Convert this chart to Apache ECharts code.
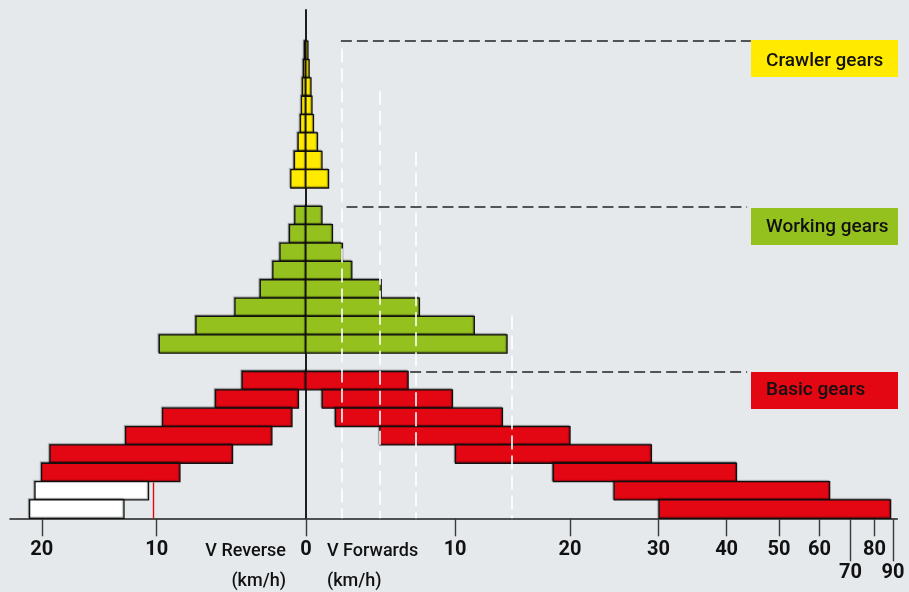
<!DOCTYPE html>
<html><head><meta charset="utf-8">
<script src="https://cdn.jsdelivr.net/npm/echarts@6/dist/echarts.min.js"></script>
<style>html,body{margin:0;padding:0;background:#e5e9ec}#c{width:909px;height:592px}</style>
</head><body><div id="c"></div><script>
// ---- data (km/h) ----
const groupNames = ['Crawler gears', 'Working gears', 'Basic gears'];
const groupFirstRow = [0, 9, 18];
// reverse speed ranges [from, to] and forward speed ranges [from, to]
const crawlerRevFrom = [0, 0, 0, 0, 0, 0, 0, 0];
const crawlerRevTo   = [0.08, 0.14, 0.20, 0.26, 0.32, 0.46, 0.68, 0.90];
const crawlerFwdFrom = [0, 0, 0, 0, 0, 0, 0, 0];
const crawlerFwdTo   = [0.12, 0.19, 0.30, 0.36, 0.45, 0.69, 0.96, 1.36];
const workingRevFrom = [0, 0, 0, 0, 0, 0, 0, 0];
const workingRevTo   = [0.66, 0.98, 1.56, 2.0, 2.79, 4.43, 7.1, 9.8];
const workingFwdFrom = [0, 0, 0, 0, 0, 0, 0, 0];
const workingFwdTo   = [0.96, 1.6, 2.22, 2.81, 4.72, 7.36, 11.5, 14.2];
const basicRevFrom   = [0, 0.44, 0.83, 2.06, 4.59, 8.26, 10.63, 12.59];
const basicRevTo     = [3.95, 5.74, 9.55, 12.46, 19.19, 20.02, 20.68, 21.23];
const basicRevWhite  = [0, 0, 0, 0, 0, 0, 1, 1];
const basicFwdFrom   = [0, 0.98, 1.79, 4.63, 10.03, 18.38, 24.66, 30.08];
const basicFwdTo     = [6.56, 9.8, 13.81, 20.0, 29.1, 41.7, 63.0, 88.6];
// axis ticks (km/h, reverse negative)
const tickSpeeds = [-20, -10, 0, 10, 20, 30, 40, 50, 60, 80];
const lowTickSpeeds = [70, 90];
// reference lines
const whiteLineSpeeds = [2.2, 4.6, 7.1, 14.6];
const whiteLineTopRows = [0.4, 2.7, 6.05, 14.95];
const groupLineFrom = [2.12, 2.47, 6.7];
const groupLineTo = [44.3, 43.6, 43.6];
const redMarkSpeed = -10.25;
const redMarkTopRow = 24.05;

// ---- speed scale (compressive) ----
const R = 0.77;
function T(v){ const s = v < 0 ? -1 : 1; return s * (1 - Math.pow(R, Math.abs(v) / 10)); }
function Tinv(u){ const s = u < 0 ? -1 : 1; return s * 10 * Math.log(1 - Math.abs(u)) / Math.log(R); }

const COLORS = ['#ffea00', '#95c11f', '#e30613', '#ffffff'];
const bars = [];
function addGroup(g, revFrom, revTo, fwdFrom, fwdTo, white){
  for (let i = 0; i < revTo.length; i++){
    const row = groupFirstRow[g] + i;
    bars.push([T(-revFrom[i]), T(-revTo[i]), row, white && white[i] ? 3 : g]);
    bars.push([T(fwdFrom[i]), T(fwdTo[i]), row, g]);
  }
}
addGroup(0, crawlerRevFrom, crawlerRevTo, crawlerFwdFrom, crawlerFwdTo);
addGroup(1, workingRevFrom, workingRevTo, workingFwdFrom, workingFwdTo);
addGroup(2, basicRevFrom, basicRevTo, basicFwdFrom, basicFwdTo, basicRevWhite);

const whiteLines = whiteLineSpeeds.map((v, i) => [{coord: [T(v), whiteLineTopRows[i]]}, {coord: [T(v), 26]}]);
const blackLines = groupFirstRow.map((r, i) => [{coord: [T(groupLineFrom[i]), r]}, {coord: [T(groupLineTo[i]), r]}]);

const FONT = 'Roboto, "Liberation Sans", sans-serif';
const chart = echarts.init(document.getElementById('c'), null, {renderer: 'canvas'});

const xBase = {
  type: 'value', min: T(-23.3), max: T(92.8),
  splitLine: {show: false}
};

chart.setOption({
  backgroundColor: '#e5e9ec',
  animation: false,
  grid: {left: 10, right: 11.7, top: 10, bottom: 73.7},
  xAxis: [
    Object.assign({}, xBase, {
      position: 'bottom', offset: 0,
      axisLine: {show: true, onZero: false, lineStyle: {color: '#1e1e1e', width: 1.6}},
      axisTick: {show: true, customValues: tickSpeeds.map(T), length: 18, lineStyle: {color: '#3a3a3a', width: 1.4}},
      axisLabel: {show: true, customValues: tickSpeeds.map(T), margin: 22,
        formatter: v => String(Math.round(Math.abs(Tinv(v)))),
        fontFamily: FONT, fontSize: 20, fontWeight: 'bold', color: '#111', lineHeight: 20}
    }),
    Object.assign({}, xBase, {
      position: 'bottom', offset: 0,
      axisLine: {show: false, onZero: false},
      axisTick: {show: true, customValues: lowTickSpeeds.map(T), length: 43, lineStyle: {color: '#3a3a3a', width: 1.4}},
      axisLabel: {show: true, customValues: lowTickSpeeds.map(T), margin: 45,
        formatter: v => String(Math.round(Math.abs(Tinv(v)))),
        fontFamily: FONT, fontSize: 20, fontWeight: 'bold', color: '#111', lineHeight: 20}
    })
  ],
  yAxis: {
    type: 'value', inverse: true, min: -1.7, max: 26,
    axisLine: {show: true, onZero: true, lineStyle: {color: '#1e1e1e', width: 2}},
    axisTick: {show: false}, axisLabel: {show: false}, splitLine: {show: false}
  },
  series: [{
    type: 'custom',
    xAxisIndex: 0,
    data: bars,
    encode: {x: [0, 1], y: 2},
    z: 2,
    renderItem: function(params, api){
      const a = api.coord([api.value(0), api.value(2)]);
      const b = api.coord([api.value(1), api.value(2) + 1]);
      return {
        type: 'rect',
        shape: {x: Math.min(a[0], b[0]), y: Math.min(a[1], b[1]), width: Math.abs(b[0] - a[0]), height: Math.abs(b[1] - a[1])},
        style: {fill: COLORS[api.value(3)], stroke: '#111', lineWidth: 1.3,
          shadowColor: 'rgba(0,0,0,0.35)', shadowBlur: 1, shadowOffsetX: -1, shadowOffsetY: -1}
      };
    },
    markLine: {
      silent: true, symbol: 'none', animation: false,
      label: {show: false},
      data: whiteLines.map(d => [Object.assign({lineStyle: {color: '#ffffff', width: 1.6, type: [14, 6]}}, d[0]), d[1]])
        .concat(blackLines.map(d => [Object.assign({lineStyle: {color: '#222', width: 1.5, type: [11, 5]}}, d[0]), d[1]]))
        .concat([[{coord: [T(redMarkSpeed), redMarkTopRow], lineStyle: {color: '#e30613', width: 1.4, type: 'solid'}}, {coord: [T(redMarkSpeed), 26]}]])
    }
  }],
  graphic: [
    {type: 'rect', z: 10, shape: {x: 751, y: 40, width: 147, height: 37}, style: {fill: '#ffea00'}},
    {type: 'text', z: 11, style: {text: groupNames[0], x: 766, y: 61, font: '500 19px ' + FONT, fill: '#111', verticalAlign: 'middle', textVerticalAlign: 'middle'}},
    {type: 'rect', z: 10, shape: {x: 751, y: 208, width: 147, height: 37}, style: {fill: '#95c11f'}},
    {type: 'text', z: 11, style: {text: groupNames[1], x: 766, y: 227, font: '500 19px ' + FONT, fill: '#111', verticalAlign: 'middle', textVerticalAlign: 'middle'}},
    {type: 'rect', z: 10, shape: {x: 751, y: 372, width: 147, height: 37}, style: {fill: '#e30613'}},
    {type: 'text', z: 11, style: {text: groupNames[2], x: 766, y: 390, font: '500 19px ' + FONT, fill: '#111', verticalAlign: 'middle', textVerticalAlign: 'middle'}},
    {type: 'text', z: 11, style: {text: 'V Reverse', x: 286, y: 551, font: '500 18px ' + FONT, fill: '#111', align: 'right', textAlign: 'right', verticalAlign: 'middle', textVerticalAlign: 'middle'}},
    {type: 'text', z: 11, style: {text: '(km/h)', x: 286, y: 581, font: '500 18px ' + FONT, fill: '#111', align: 'right', textAlign: 'right', verticalAlign: 'middle', textVerticalAlign: 'middle'}},
    {type: 'text', z: 11, style: {text: 'V Forwards', x: 327, y: 551, font: '500 18px ' + FONT, fill: '#111', align: 'left', textAlign: 'left', verticalAlign: 'middle', textVerticalAlign: 'middle'}},
    {type: 'text', z: 11, style: {text: '(km/h)', x: 327, y: 581, font: '500 18px ' + FONT, fill: '#111', align: 'left', textAlign: 'left', verticalAlign: 'middle', textVerticalAlign: 'middle'}}
  ]
});
</script></body></html>
